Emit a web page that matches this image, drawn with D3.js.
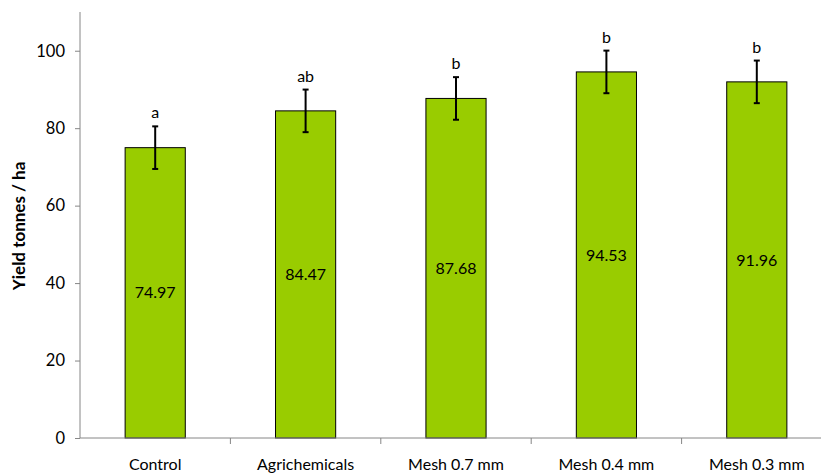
<!DOCTYPE html>
<html>
<head>
<meta charset="utf-8">
<script src="https://cdn.jsdelivr.net/npm/d3@7"></script>
<style>
  html, body { margin: 0; padding: 0; background: #fff; }
  svg { display: block; }
  text { font-family: Lato, "Open Sans", sans-serif; fill: #000; }
</style>
</head>
<body>
<svg id="chart" width="821" height="475"></svg>
<script>
// Treatments and mean yield (tonnes / ha)
const categories = ["Control", "Agrichemicals", "Mesh 0.7 mm", "Mesh 0.4 mm", "Mesh 0.3 mm"];
const yields = [74.97, 84.47, 87.68, 94.53, 91.96];
const errors = [5.5, 5.5, 5.5, 5.5, 5.5];
const groups = ["a", "ab", "b", "b", "b"];
const yTicks = [0, 20, 40, 60, 80, 100];

const svg = d3.select("#chart");
const axisColor = "#868686";

const x = d3.scaleBand().domain(categories).range([80, 832]).paddingInner(0.6).paddingOuter(0.3);
const y = d3.scaleLinear().domain([0, 110]).range([438, 12]);

const data = categories.map((c, i) => ({ c, v: yields[i], e: errors[i], g: groups[i] }));

// Bars
svg.append("g").selectAll("rect").data(data).join("rect")
  .attr("x", d => x(d.c))
  .attr("y", d => y(d.v))
  .attr("width", x.bandwidth())
  .attr("height", d => y(0) - y(d.v))
  .attr("fill", "#99cc00")
  .attr("stroke", "#000")
  .attr("stroke-width", 1);

// Error bars
const eb = svg.append("g").attr("stroke", "#000").attr("stroke-width", 2);
data.forEach(d => {
  const cx = x(d.c) + x.bandwidth() / 2;
  eb.append("line").attr("x1", cx).attr("x2", cx).attr("y1", y(d.v + d.e)).attr("y2", y(d.v - d.e));
  eb.append("line").attr("x1", cx - 3).attr("x2", cx + 3).attr("y1", y(d.v + d.e)).attr("y2", y(d.v + d.e));
  eb.append("line").attr("x1", cx - 3).attr("x2", cx + 3).attr("y1", y(d.v - d.e)).attr("y2", y(d.v - d.e));
});

// Significance letters
svg.append("g").selectAll("text").data(data).join("text")
  .attr("x", d => x(d.c) + x.bandwidth() / 2)
  .attr("y", d => y(d.v + d.e) - 8)
  .attr("text-anchor", "middle")
  .style("font-size", "16px")
  .text(d => d.g);

// Value labels at mid-height
svg.append("g").selectAll("text").data(data).join("text")
  .attr("x", d => x(d.c) + x.bandwidth() / 2)
  .attr("y", d => (y(d.v) + y(0)) / 2)
  .attr("dy", "0.35em")
  .attr("text-anchor", "middle")
  .style("font-size", "16px")
  .text(d => d.v.toFixed(2));

// Y axis
const yAxis = svg.append("g").attr("transform", "translate(80,0)")
  .call(d3.axisLeft(y).tickValues(yTicks).tickSize(5).tickPadding(10).tickSizeOuter(0));
yAxis.select(".domain").attr("stroke", axisColor).attr("d", `M0,${y(0)}V${y(110)}`);
yAxis.selectAll(".tick line").attr("stroke", axisColor);
yAxis.selectAll(".tick text").style("font-size", "16.5px").attr("font-family", null);

// X axis with ticks at category boundaries
const xAxis = svg.append("g").attr("transform", `translate(0,${y(0)})`);
xAxis.append("line").attr("x1", 80).attr("x2", 821).attr("y1", 0).attr("y2", 0).attr("stroke", axisColor);
const step = x.step();
const bounds = d3.range(1, categories.length).map(i => 80 + i * step);
xAxis.selectAll("line.tk").data(bounds).join("line").attr("class", "tk")
  .attr("x1", d => d).attr("x2", d => d).attr("y1", 0).attr("y2", 6).attr("stroke", axisColor);
xAxis.selectAll("text").data(categories).join("text")
  .attr("x", d => x(d) + x.bandwidth() / 2)
  .attr("y", 32)
  .attr("text-anchor", "middle")
  .style("font-size", "16px")
  .text(d => d);

// Y axis title
svg.append("text")
  .attr("transform", "translate(25,226) rotate(-90)")
  .attr("text-anchor", "middle")
  .style("font-size", "17px")
  .style("font-weight", "bold")
  .text("Yield tonnes / ha");
</script>
</body>
</html>
